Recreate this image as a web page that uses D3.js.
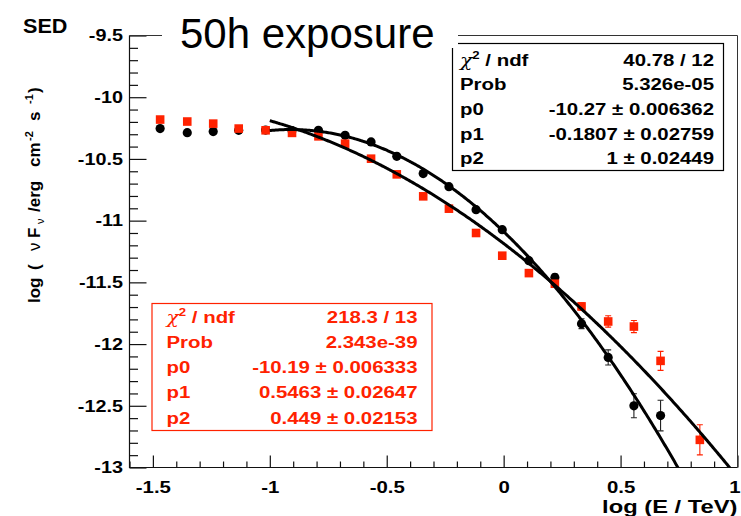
<!DOCTYPE html>
<html><head><meta charset="utf-8">
<script src="https://cdn.jsdelivr.net/npm/d3@7"></script>
<style>
  html,body{margin:0;padding:0;background:#fff}
  svg{display:block}
  text{font-family:"Liberation Sans",Arial,Helvetica,sans-serif}
</style>
</head><body>
<svg id="chart" width="741" height="516"></svg>
<script>
// ---- measured SED points, log10(E / TeV) vs log10(nu F_nu / erg cm^-2 s^-1)
const logEBlack = [-1.469,-1.353,-1.242,-1.133,-1.018,-0.905,-0.792,-0.678,-0.567,-0.457,-0.344,-0.234,-0.118,-0.006,0.108,0.219,0.333,0.447,0.557,0.671];
const sedBlack  = [-10.254,-10.287,-10.278,-10.268,-10.266,-10.270,-10.268,-10.309,-10.362,-10.479,-10.619,-10.725,-10.911,-11.073,-11.324,-11.460,-11.835,-12.108,-12.500,-12.579];
const errBlack  = [0.006,0.006,0.007,0.007,0.008,0.008,0.009,0.010,0.011,0.012,0.013,0.015,0.017,0.019,0.022,0.028,0.040,0.061,0.097,0.124];

const logERed = [-1.469,-1.353,-1.242,-1.133,-1.018,-0.905,-0.792,-0.678,-0.567,-0.457,-0.344,-0.234,-0.118,-0.006,0.108,0.219,0.333,0.447,0.557,0.671,0.839];
const sedRed  = [-10.181,-10.197,-10.214,-10.254,-10.268,-10.289,-10.317,-10.376,-10.498,-10.625,-10.803,-10.903,-11.100,-11.284,-11.425,-11.511,-11.695,-11.817,-11.858,-12.136,-12.776];
const errRed  = [0.006,0.006,0.006,0.007,0.007,0.008,0.008,0.009,0.010,0.011,0.012,0.013,0.015,0.017,0.019,0.022,0.030,0.046,0.049,0.077,0.122];

// ---- log-parabola fits: f = p0 - p1*u - p2*u^2, u = log10(E / 0.1 TeV)
const fitBlack = [-10.27, -0.1807, 1];
const fitRed   = [-10.19, 0.5463, 0.449];
const fitRange = [-1, 1];

// ---- fit statistics boxes
const statLabels = ["ndf", "Prob", "p0", "p1", "p2"];
const statBlack  = ["40.78 / 12", "5.326e-05", "-10.27 \u00b1 0.006362", "-0.1807 \u00b1 0.02759", "1 \u00b1 0.02449"];
const statRed    = ["218.3 / 13", "2.343e-39", "-10.19 \u00b1 0.006333", "0.5463 \u00b1 0.02647", "0.449 \u00b1 0.02153"];

// ---- axes
const xDomain = [-1.6, 1.0];
const yDomain = [-13, -9.5];
const xMajor = [-1.5, -1, -0.5, 0, 0.5, 1];
const yMajor = [-13, -12.5, -12, -11.5, -11, -10.5, -10, -9.5];

const RED = "#ff2200";
const SX = 1.2;               // horizontal stretch of the canvas lettering
const svg = d3.select("#chart");

const L = 129.5, R = 737.5, T = 35.5, B = 467.5;
const x = d3.scaleLinear(xDomain, [L, R]);
const y = d3.scaleLinear(yDomain, [B, T]);

// plain hyphen for negative numbers, as in the ROOT labels
const fmt = d => d3.format("~g")(d).replace("\u2212", "-");

const minorX = d3.range(-16, 11).map(d => d / 10).filter(v => !xMajor.some(m => Math.abs(m - v) < 1e-9));
const minorY = d3.range(-130, -94).map(d => d / 10).filter(v => !yMajor.some(m => Math.abs(m - v) < 1e-9));

function styleAxis(g) {
  g.select(".domain").remove();
  g.selectAll(".tick line").attr("stroke", "#111").attr("stroke-width", 1.2);
}

// x axis: ticks pointing up into the frame
const gx = svg.append("g").attr("transform", `translate(0,${B})`);
gx.call(d3.axisBottom(x).tickValues(minorX).tickSize(-6).tickFormat("")).call(styleAxis);
const gx2 = svg.append("g").attr("transform", `translate(0,${B})`);
gx2.call(d3.axisBottom(x).tickValues(xMajor).tickSize(-12).tickPadding(13).tickFormat(fmt))
   .call(styleAxis);
gx2.selectAll(".tick text")
   .attr("fill", "#000").attr("font-size", 17).attr("font-weight", "bold")
   .attr("transform", `scale(${SX},1)`)
   .attr("dx", d => d === 1 ? -2.5 : 0);

// y axis: ticks pointing right into the frame
const gy = svg.append("g").attr("transform", `translate(${L},0)`);
gy.call(d3.axisLeft(y).tickValues(minorY).tickSize(-8.5).tickFormat("")).call(styleAxis);
const gy2 = svg.append("g").attr("transform", `translate(${L},0)`);
gy2.call(d3.axisLeft(y).tickValues(yMajor).tickSize(-17).tickPadding(5.5).tickFormat(fmt))
   .call(styleAxis);
gy2.selectAll(".tick text")
   .attr("fill", "#000").attr("font-size", 16.5).attr("font-weight", "bold")
   .attr("transform", `scale(${SX},1)`);

// frame
svg.append("path")
   .attr("d", `M${L},${T}V${B}H${R}`)
   .attr("fill", "none").attr("stroke", "#111").attr("stroke-width", 1.2);
svg.append("path")
   .attr("d", `M${L},${T}H${R}V${B}`)
   .attr("fill", "none").attr("stroke", "#333").attr("stroke-width", 1);

// clip for the plotted data
svg.append("clipPath").attr("id", "frameClip")
   .append("rect").attr("x", L).attr("y", T).attr("width", R - L).attr("height", B - T);
const plot = svg.append("g").attr("clip-path", "url(#frameClip)");

function drawErrors(xs, ys, es, color) {
  const g = plot.append("g").attr("stroke", color).attr("stroke-width", 1.1);
  xs.forEach((xv, i) => {
    const px = x(xv), y0 = y(ys[i] - es[i]), y1 = y(ys[i] + es[i]);
    g.append("line").attr("x1", px).attr("x2", px).attr("y1", y0).attr("y2", y1);
    g.append("line").attr("x1", px - 3).attr("x2", px + 3).attr("y1", y0).attr("y2", y0);
    g.append("line").attr("x1", px - 3).attr("x2", px + 3).attr("y1", y1).attr("y2", y1);
  });
}

drawErrors(logEBlack, sedBlack, errBlack, "#222");
plot.append("g").selectAll("circle").data(logEBlack).join("circle")
  .attr("cx", d => x(d)).attr("cy", (d, i) => y(sedBlack[i])).attr("r", 4.6).attr("fill", "#000");

drawErrors(logERed, sedRed, errRed, RED);
plot.append("g").selectAll("rect").data(logERed).join("rect")
  .attr("x", d => x(d) - 4.3).attr("y", (d, i) => y(sedRed[i]) - 4.3)
  .attr("width", 8.6).attr("height", 8.6).attr("fill", RED);

// fitted log-parabolas
function fitCurve(p) {
  const pts = d3.range(fitRange[0], fitRange[1] + 1e-9, 0.005).map(v => {
    const u = v - fitRange[0];
    return [v, p[0] - p[1] * u - p[2] * u * u];
  });
  plot.append("path").datum(pts)
    .attr("fill", "none").attr("stroke", "#000").attr("stroke-width", 3)
    .attr("d", d3.line().x(d => x(d[0])).y(d => y(d[1])));
}
fitCurve(fitBlack);
fitCurve(fitRed);

// stats boxes
function statsBox(x0, y0, w, h, values, color, labelX, valueX, base0, step) {
  const g = svg.append("g");
  g.append("rect").attr("x", x0 + 0.5).attr("y", y0 + 0.5).attr("width", w).attr("height", h)
    .attr("fill", "#fff").attr("stroke", color).attr("stroke-width", 1.2);
  statLabels.forEach((lab, i) => {
    const by = base0 + i * step;
    const t = g.append("text").attr("transform", `translate(${labelX},${by}) scale(${SX},1)`)
      .attr("fill", color).attr("font-size", 17).attr("font-weight", "bold");
    if (i === 0) {
      t.append("tspan").attr("font-weight", "normal").attr("font-family", "DejaVu Serif").attr("font-style", "italic").text("\u03c7");
      t.append("tspan").attr("font-size", 11).attr("dy", -7).text("2");
      t.append("tspan").attr("dy", 7).text(" / " + lab);
    } else {
      t.text(lab);
    }
    g.append("text").attr("transform", `translate(${valueX},${by}) scale(${SX},1)`)
      .attr("text-anchor", "end").attr("fill", color).attr("font-size", 17).attr("font-weight", "bold")
      .text(values[i]);
  });
}
statsBox(452, 43, 271, 127, statBlack, "#000", 460, 714, 65.5, 24.7);
statsBox(151.5, 303, 280, 127, statRed, RED, 166.5, 417.5, 322.5, 25.25);

// axis titles
svg.append("text").attr("transform", `translate(${R},513) scale(1.32,1)`)
  .attr("text-anchor", "end").attr("font-size", 18).attr("font-weight", "bold").text("log (E / TeV)");

// vertical title, pieces laid out upward along the axis (rotated x = -screen y)
const yt = svg.append("text").attr("transform", `translate(39.5,0) rotate(-90)`)
  .attr("font-size", 17).attr("font-weight", "bold");
const yPieces = [
  {t: "log", at: 303}, {t: "(", at: 270}, {t: "\u03bd", at: 251, n: true}, {t: "F", at: 238},
  {t: "\u03bd", at: 224, sub: true}, {t: "/erg", at: 212}, {t: "cm", at: 167},
  {t: "-2", at: 141, sup: true}, {t: "s", at: 121}, {t: "-1", at: 104, sup: true}, {t: ")", at: 93}
];
yPieces.forEach(p => {
  const s = yt.append("tspan").attr("x", -p.at).attr("y", p.sub ? 4 : p.sup ? -7 : 0).text(p.t);
  if (p.sub || p.sup) s.attr("font-size", 11);
  if (p.n || p.sub) s.attr("font-weight", "normal");
});

svg.append("text").attr("transform", `translate(23,33) scale(1.08,1)`)
  .attr("font-size", 20).attr("font-weight", "bold").text("SED");

// headline
svg.append("rect").attr("x", 162).attr("y", 8).attr("width", 296).attr("height", 40).attr("fill", "#fff");
svg.append("text").attr("x", 180).attr("y", 48).attr("font-size", 42).attr("fill", "#000").text("50h exposure");
</script>
</body></html>
